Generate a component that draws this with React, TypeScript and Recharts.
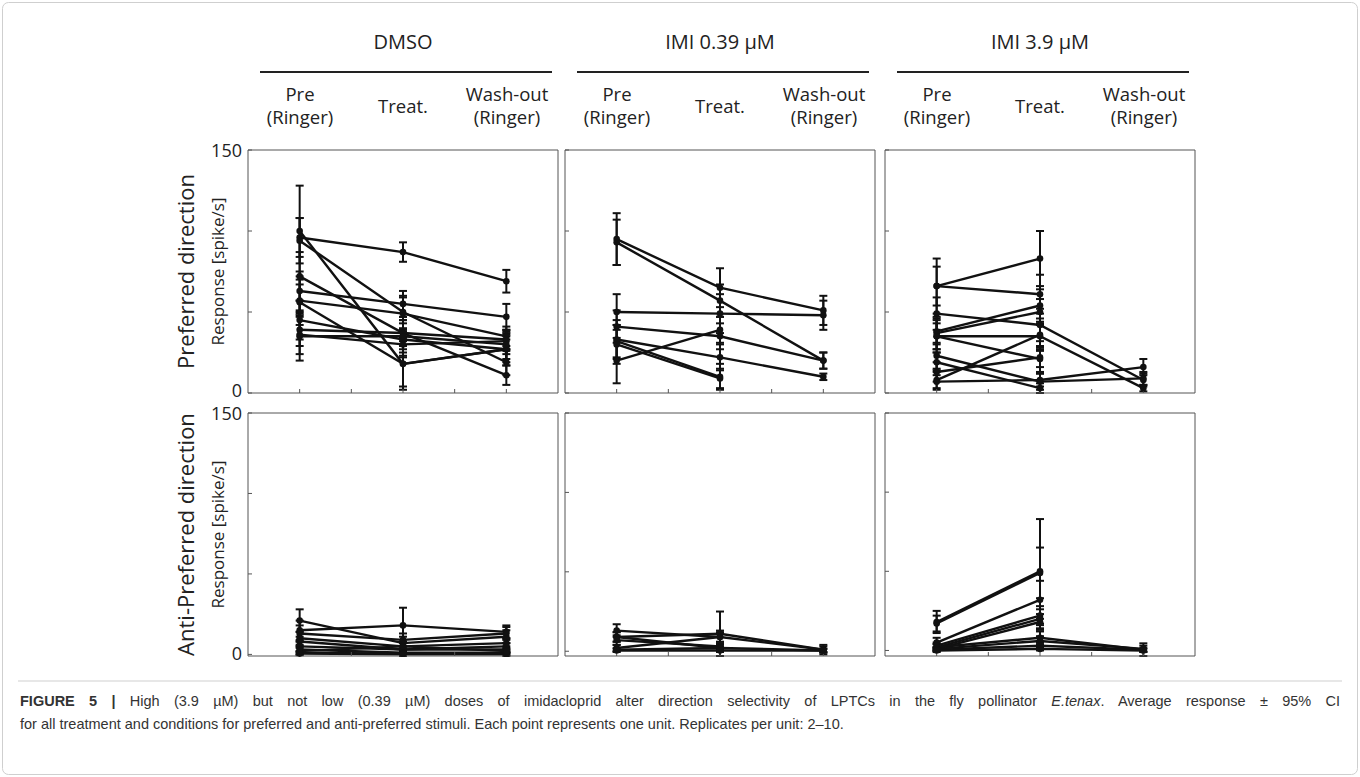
import React from 'react';
import { LineChart, Line, XAxis, YAxis, ErrorBar } from 'recharts';

// ---------- data ----------
const CONDITIONS = ['Pre', 'Treat.', 'Wash-out'];
const GROUPS = ['DMSO', 'IMI 0.39 \u00b5M', 'IMI 3.9 \u00b5M'];
const ROWS = ['Preferred direction', 'Anti-Preferred direction'];
const X_TICKS = [1, 1.5, 2, 2.5, 3];
const Y_TICKS = [0, 50, 100, 150];

// DMSO, preferred
const dmsoPrefPre = [100, 96, 94, 72, 63, 57, 56, 45, 39, 36, 35];
const dmsoPrefTreat = [18, 87, 50, 37, 55, 49, 18, 33, 37, 30, 35];
const dmsoPrefWash = [27, 69, 19, 11, 47, 35, 27, 27, 33, 32, 30];
const dmsoPrefPreErr = [28, 12, 14, 15, 12, 10, 14, 12, 10, 12, 15];
const dmsoPrefTreatErr = [14, 6, 10, 10, 8, 10, 16, 10, 8, 8, 10];
const dmsoPrefWashErr = [6, 7, 8, 6, 8, 6, 10, 8, 6, 6, 6];

// IMI 0.39, preferred
const imiLoPrefPre = [95, 93, 50, 41, 33, 32, 30, 20];
const imiLoPrefTreat = [65, 57, 49, 35, 22, 10, 9, 39];
const imiLoPrefWash = [51, 20, 48, 20, 10, null, null, null];
const imiLoPrefPreErr = [16, 14, 11, 10, 12, 10, 12, 14];
const imiLoPrefTreatErr = [12, 10, 12, 8, 8, 8, 6, 8];
const imiLoPrefWashErr = [9, 5, 9, 5, 2, 0, 0, 0];

// IMI 3.9, preferred
const imiHiPrefPre = [66, 66, 49, 38, 37, 35, 35, 23, 19, 13, 8, 7];
const imiHiPrefTreat = [83, 61, 42, 54, 50, 35, 21, 7, 3, 22, 36, 8];
const imiHiPrefWash = [null, null, 8, null, null, 3, null, 9, null, null, null, 16];
const imiHiPrefPreErr = [17, 12, 10, 8, 10, 8, 10, 8, 6, 6, 6, 4];
const imiHiPrefTreatErr = [17, 12, 10, 10, 8, 8, 8, 5, 3, 6, 10, 4];
const imiHiPrefWashErr = [0, 0, 4, 0, 0, 2, 0, 4, 0, 0, 0, 5];

// DMSO, anti-preferred
const dmsoAntiPre = [21, 15, 13, 10, 8, 5, 3, 1, 0.5, 2];
const dmsoAntiTreat = [7, 18, 9, 5, 3, 3, 1, 0.5, 0, 5];
const dmsoAntiWash = [11, 14, 13, 7, 5, 3, 1, 0.5, 0, 2];
const dmsoAntiPreErr = [7, 6, 5, 4, 3, 3, 2, 1, 1, 2];
const dmsoAntiTreatErr = [4, 11, 4, 3, 2, 2, 1, 1, 1, 2];
const dmsoAntiWashErr = [4, 4, 4, 3, 2, 2, 1, 1, 1, 1];

// IMI 0.39, anti-preferred
const imiLoAntiPre = [13, 9, 9, 7, 2, 1, 0.5];
const imiLoAntiTreat = [9, 11, 2, 3, 9, 2, 0.5];
const imiLoAntiWash = [1, 1, null, null, null, 0.5, 0.5];
const imiLoAntiPreErr = [4, 3, 3, 3, 2, 1, 1];
const imiLoAntiTreatErr = [4, 14, 2, 2, 3, 1, 1];
const imiLoAntiWashErr = [2, 3, 0, 0, 0, 1, 1];

// IMI 3.9, anti-preferred
const imiHiAntiPre = [18, 17, 5, 3, 2, 1, 2, 1, 0.5, 0];
const imiHiAntiTreat = [50, 49, 32, 22, 20, 18, 8, 6, 3, 1];
const imiHiAntiWash = [null, null, null, null, null, null, 0.5, 1, 0.5, 0];
const imiHiAntiPreErr = [7, 5, 3, 2, 2, 1, 2, 1, 1, 1];
const imiHiAntiTreatErr = [33, 16, 12, 6, 6, 5, 4, 3, 2, 1];
const imiHiAntiWashErr = [0, 0, 0, 0, 0, 0, 4, 2, 1, 1];

const CAPTION_LINE_2 = 'for all treatment and conditions for preferred and anti-preferred stimuli. Each point represents one unit. Replicates per unit: 2\u201310.';

type Arr = (number | null)[];
interface PanelData { pre: Arr; treat: Arr; wash: Arr; preErr: number[]; treatErr: number[]; washErr: number[] }

const PANELS: PanelData[][] = [
  [
    { pre: dmsoPrefPre, treat: dmsoPrefTreat, wash: dmsoPrefWash, preErr: dmsoPrefPreErr, treatErr: dmsoPrefTreatErr, washErr: dmsoPrefWashErr },
    { pre: imiLoPrefPre, treat: imiLoPrefTreat, wash: imiLoPrefWash, preErr: imiLoPrefPreErr, treatErr: imiLoPrefTreatErr, washErr: imiLoPrefWashErr },
    { pre: imiHiPrefPre, treat: imiHiPrefTreat, wash: imiHiPrefWash, preErr: imiHiPrefPreErr, treatErr: imiHiPrefTreatErr, washErr: imiHiPrefWashErr },
  ],
  [
    { pre: dmsoAntiPre, treat: dmsoAntiTreat, wash: dmsoAntiWash, preErr: dmsoAntiPreErr, treatErr: dmsoAntiTreatErr, washErr: dmsoAntiWashErr },
    { pre: imiLoAntiPre, treat: imiLoAntiTreat, wash: imiLoAntiWash, preErr: imiLoAntiPreErr, treatErr: imiLoAntiTreatErr, washErr: imiLoAntiWashErr },
    { pre: imiHiAntiPre, treat: imiHiAntiTreat, wash: imiHiAntiWash, preErr: imiHiAntiPreErr, treatErr: imiHiAntiTreatErr, washErr: imiHiAntiWashErr },
  ],
];

// ---------- layout ----------
const PANEL_LEFT = [248, 565, 885];
const PANEL_TOP = [150, 413];
const PW = 310;
const PH = 243;
const INK = '#111';
const FRAME = '#555';
const LABEL_FONT = '"Open Sans", "Noto Sans", sans-serif';
const CAPTION_FONT = '"Liberation Sans", Arial, sans-serif';

function unitSeries(p: PanelData) {
  return p.pre.map((_, i) => {
    const pts = [
      { x: 1, y: p.pre[i], e: p.preErr[i] },
      { x: 2, y: p.treat[i], e: p.treatErr[i] },
      { x: 3, y: p.wash[i], e: p.washErr[i] },
    ];
    return pts.filter((q) => q.y !== null && q.y !== undefined);
  });
}

function Panel({ data, left, top }: { data: PanelData; left: number; top: number }) {
  const series = unitSeries(data);
  const hide = () => '';
  const axisProps = {
    tickFormatter: hide, tickSize: 4, stroke: FRAME,
    axisLine: { stroke: FRAME }, tickLine: { stroke: FRAME }, mirror: true,
  };
  return (
    <div style={{ position: 'absolute', left: left - 1, top: top - 1 }}>
      <LineChart width={PW + 2} height={PH + 2} margin={{ top: 1, right: 1, bottom: 1, left: 1 }}>
        <XAxis xAxisId="b" type="number" dataKey="x" domain={[0.5, 3.5]} ticks={X_TICKS} orientation="bottom" {...axisProps} />
        <XAxis xAxisId="t" type="number" dataKey="x" domain={[0.5, 3.5]} ticks={X_TICKS} orientation="top" {...axisProps} />
        <YAxis yAxisId="l" type="number" domain={[0, 150]} ticks={Y_TICKS} orientation="left" {...axisProps} />
        <YAxis yAxisId="r" type="number" domain={[0, 150]} ticks={Y_TICKS} orientation="right" {...axisProps} />
        {series.map((s, i) => (
          <Line key={i} data={s} xAxisId="b" yAxisId="l" dataKey="y" stroke={INK} strokeWidth={2.4}
            dot={{ r: 3.3, fill: INK, stroke: INK, strokeWidth: 0 }} activeDot={false} isAnimationActive={false}>
            <ErrorBar dataKey="e" direction="y" width={4} stroke={INK} strokeWidth={2} isAnimationActive={false} />
          </Line>
        ))}
      </LineChart>
    </div>
  );
}

export default function App() {
  return (
    <div style={{ position: 'absolute', left: 0, top: 0, width: 1360, height: 777, background: '#fff', overflow: 'hidden' }}>
      <svg width={1360} height={777} style={{ position: 'absolute', left: 0, top: 0 }}>
        <rect x={2.5} y={2.5} width={1355} height={772} rx={6} fill="none" stroke="#cfcfcf" strokeWidth={1} />
        <line x1={18} y1={681} x2={1342} y2={681} stroke="#cfcfcf" strokeWidth={1} />
        {GROUPS.map((g, c) => {
          const l = PANEL_LEFT[c];
          return (
            <g key={g} fontFamily={LABEL_FONT} fill="#222">
              <text x={l + PW / 2} y={49} fontSize={20} textAnchor="middle">{g}</text>
              <line x1={l + 12} y1={72} x2={l + PW - 6} y2={72} stroke="#222" strokeWidth={2} />
              <text x={l + 52} y={101} fontSize={18.5} textAnchor="middle">{CONDITIONS[0]}</text>
              <text x={l + 52} y={124} fontSize={18.5} textAnchor="middle">(Ringer)</text>
              <text x={l + 155} y={113} fontSize={18.5} textAnchor="middle">{CONDITIONS[1]}</text>
              <text x={l + 259} y={101} fontSize={18.5} textAnchor="middle">{CONDITIONS[2]}</text>
              <text x={l + 259} y={124} fontSize={18.5} textAnchor="middle">(Ringer)</text>
            </g>
          );
        })}
        {ROWS.map((r, k) => {
          const t = PANEL_TOP[k];
          const cy = t + PH / 2;
          return (
            <g key={r} fontFamily={LABEL_FONT} fill="#222">
              <text x={242} y={t + 7} fontSize={18} textAnchor="end">150</text>
              <text x={242} y={t + PH + 4} fontSize={18} textAnchor="end">0</text>
              <text transform={`translate(194, ${cy}) rotate(-90)`} fontSize={22} textAnchor="middle">{r}</text>
              <text transform={`translate(224, ${cy}) rotate(-90)`} fontSize={17} textAnchor="middle">Response [spike/s]</text>
            </g>
          );
        })}
      </svg>
      <div style={{
        position: 'absolute', left: 20, top: 690, width: 1320, fontFamily: CAPTION_FONT, fontSize: 14.5,
        lineHeight: '23px', color: '#333', textAlign: 'justify', textAlignLast: 'justify', whiteSpace: 'nowrap',
      }}>
        <div style={{ whiteSpace: 'normal', textAlign: 'justify', textAlignLast: 'justify' }}>
          <b>FIGURE 5 |</b> High (3.9 {'\u00b5'}M) but not low (0.39 {'\u00b5'}M) doses of imidacloprid alter direction selectivity of LPTCs in the fly pollinator <i>E.tenax</i>. Average response {'\u00b1'} 95% CI
        </div>
        <div style={{ textAlign: 'left', textAlignLast: 'left' }}>{CAPTION_LINE_2}</div>
      </div>
      {PANELS.map((row, r) =>
        row.map((p, c) => <Panel key={`${r}-${c}`} data={p} left={PANEL_LEFT[c]} top={PANEL_TOP[r]} />)
      )}
    </div>
  );
}
